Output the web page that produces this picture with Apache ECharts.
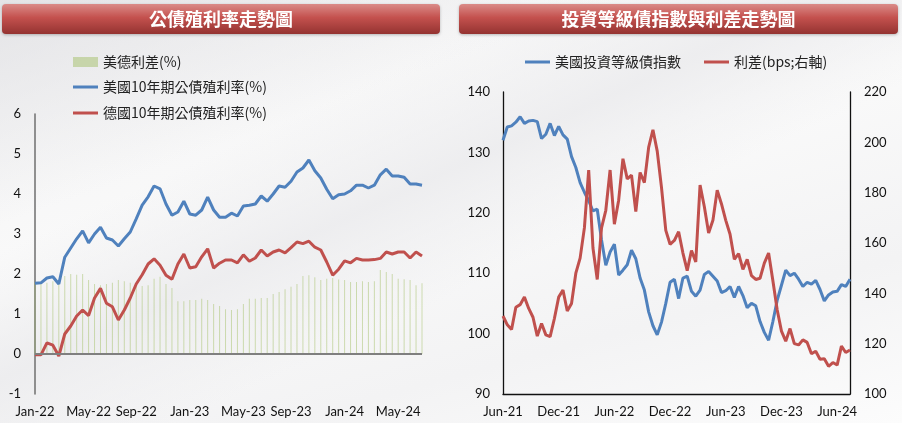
<!DOCTYPE html>
<html>
<head>
<meta charset="utf-8">
<script src="https://cdn.jsdelivr.net/npm/echarts/dist/echarts.min.js"></script>
<style>
  html, body { margin: 0; padding: 0; }
  body {
    width: 902px; height: 423px; overflow: hidden;
    background:
      linear-gradient(160deg, rgba(225,225,228,0.8) 0%, rgba(255,255,255,0) 30%),
      linear-gradient(-25deg, rgba(255,255,255,0) 40%, rgba(236,236,238,0.9) 55%, rgba(255,255,255,0) 70%),
      linear-gradient(165deg, #f2f2f3 0%, #fafafa 45%, #f3f3f4 75%, #fcfcfc 100%);
  }
  #main { width: 902px; height: 423px; }
</style>
</head>
<body>
<div id="main"></div>
<script>
// 左圖: 公債殖利率 (雙週資料, 2022-01 起)
const leftStart = '2022-01-07'
const leftTickMonths = [0, 4, 8]          // Jan / May / Sep
const spreadUsDe = [1.79,1.80,1.78,1.82,1.80,1.95,2.0,1.98,2.0,1.85,
  1.75,1.72,1.75,1.78,1.85,1.82,1.78,1.72,1.70,1.72,
  1.88,1.93,1.75,1.65,1.32,1.32,1.35,1.35,1.38,1.35,
  1.25,1.20,1.12,1.10,1.12,1.25,1.38,1.38,1.40,1.40,
  1.50,1.55,1.62,1.68,1.75,1.95,1.97,1.92,1.85,1.88,
  1.90,1.86,1.85,1.80,1.80,1.82,1.80,1.82,2.10,2.05,
  2.00,1.88,1.87,1.85,1.72,1.77]
const us10y = [1.77,1.78,1.90,1.93,1.75,2.42,2.65,2.88,3.08,2.78,
  3.00,3.17,2.90,2.85,2.70,2.88,3.05,3.38,3.72,3.93,
  4.20,4.13,3.75,3.47,3.55,3.82,3.50,3.47,3.60,3.92,
  3.60,3.42,3.42,3.52,3.45,3.70,3.72,3.75,3.95,3.82,
  4.00,4.20,4.17,4.32,4.55,4.65,4.85,4.58,4.40,4.12,
  3.88,3.98,4.00,4.08,4.22,4.22,4.15,4.22,4.48,4.62,
  4.45,4.45,4.42,4.25,4.25,4.22]
const de10y = [-0.02,-0.02,0.28,0.22,-0.05,0.50,0.70,0.95,1.10,0.96,
  1.40,1.64,1.27,1.18,0.85,1.10,1.40,1.75,1.98,2.25,
  2.38,2.22,1.97,1.87,2.25,2.50,2.15,2.18,2.43,2.63,
  2.15,2.27,2.35,2.35,2.28,2.48,2.32,2.40,2.60,2.45,
  2.55,2.60,2.53,2.66,2.80,2.76,2.82,2.67,2.60,2.30,
  1.97,2.12,2.33,2.28,2.39,2.35,2.35,2.36,2.39,2.55,
  2.50,2.55,2.55,2.40,2.55,2.45]

// 右圖: 投資等級債指數與利差 (雙週資料, 2021-06 起)
const rightStart = '2021-06-07'
const rightTickMonths = [5, 11]           // Jun / Dec
const igIndex = [132.0,134.2,134.4,135.0,135.9,134.8,135.2,135.3,135.1,132.3,
  133.0,134.8,132.8,134.3,132.9,132.2,129.3,127.5,125.0,123.4,
  122.0,120.3,120.6,115.5,111.3,113.5,114.8,109.7,110.5,111.4,
  113.8,112.4,109.2,107.2,103.6,101.3,99.8,101.9,105.0,108.5,
  109.0,105.8,109.2,109.5,107.0,106.2,107.2,109.8,110.3,109.5,
  108.7,106.8,107.1,107.8,106.0,107.8,106.3,104.3,105.0,104.6,
  102.0,100.2,98.9,102.0,105.5,108.0,110.5,109.6,110.0,109.0,
  107.8,108.5,108.2,108.8,107.3,105.4,106.4,106.9,107.0,108.1,
  107.8,109.0]
const igSpread = [131.0,127.5,125.6,134.5,135.5,138.5,134.0,130.5,123.0,128.0,
  123.5,122.8,130.0,138.5,141.3,133.0,136.0,148.0,154.0,166.0,
  189.0,158.0,145.5,166.0,173.0,189.0,167.5,177.0,193.5,185.5,
  187.0,172.5,188.0,184.0,198.0,205.0,196.5,182.0,165.0,159.5,
  161.0,164.5,156.0,149.0,157.0,152.5,183.0,174.4,164.0,169.0,
  181.0,175.5,169.0,163.5,153.5,155.8,149.5,153.5,147.0,145.5,
  146.0,152.0,156.0,145.0,133.5,125.0,121.0,126.0,120.0,119.5,
  121.5,120.5,116.0,117.0,113.8,114.0,111.0,112.5,111.5,119.0,
  116.5,117.5]

const monthNames = ['Jan','Feb','Mar','Apr','May','Jun','Jul','Aug','Sep','Oct','Nov','Dec']
const font = 'Lato, "Noto Sans CJK TC", sans-serif'
const cjk = '"Noto Sans CJK TC", sans-serif'

function biweekly(start, n) {
  const t0 = Date.parse(start)
  const out = []
  for (let i = 0; i < n; i++) {
    out.push(new Date(t0 + i * 14 * 86400000).toISOString().slice(0, 10))
  }
  return out
}
function tickFilter(months) {
  return (idx, val) => {
    const d = new Date(val)
    return months.indexOf(d.getUTCMonth()) >= 0 && d.getUTCDate() <= 14
  }
}
function monthLabel(val) {
  const d = new Date(val)
  return monthNames[d.getUTCMonth()] + '-' + String(d.getUTCFullYear()).slice(2)
}

const leftDates = biweekly(leftStart, us10y.length)
const rightDates = biweekly(rightStart, igIndex.length)

const chart = echarts.init(document.getElementById('main'))

function banner(x, w, text) {
  return [
    {
      type: 'rect',
      shape: { x: x, y: 4, width: w, height: 30, r: 4 },
      style: {
        fill: { type: 'linear', x: 0, y: 0, x2: 0, y2: 1, colorStops: [
          { offset: 0, color: '#da8b88' }, { offset: 0.45, color: '#c4514e' }, { offset: 1, color: '#943331' }
        ] },
        shadowBlur: 3, shadowColor: 'rgba(0,0,0,0.25)', shadowOffsetY: 1
      }
    },
    {
      type: 'text',
      style: {
        x: x + w / 2, y: 19, text: text, fill: '#fff',
        font: 'bold 18px ' + cjk, textAlign: 'center', textVerticalAlign: 'middle'
      }
    }
  ]
}

const axisText = { color: '#111', fontSize: 13, fontFamily: font }

chart.setOption({
  animation: false,
  textStyle: { fontFamily: font },
  graphic: banner(2, 438, '公債殖利率走勢圖').concat(banner(459, 439, '投資等級債指數與利差走勢圖')),
  legend: [
    {
      data: ['美德利差(%)'], left: 73, top: 55, padding: 0,
      icon: 'rect', itemWidth: 25, itemHeight: 10,
      textStyle: { fontSize: 14, color: '#222', fontFamily: cjk }
    },
    {
      data: ['美國10年期公債殖利率(%)', '德國10年期公債殖利率(%)'], orient: 'vertical',
      left: 73, top: 80, padding: 0, itemGap: 12,
      icon: 'rect', itemWidth: 25, itemHeight: 3,
      textStyle: { fontSize: 14, color: '#222', fontFamily: cjk }
    },
    {
      data: ['美國投資等級債指數', '利差(bps;右軸)'], left: 525, top: 55, padding: 0, itemGap: 23,
      icon: 'rect', itemWidth: 25, itemHeight: 3,
      textStyle: { fontSize: 14, color: '#222', fontFamily: cjk }
    }
  ],
  grid: [
    { left: 35, top: 114, width: 387, height: 280 },
    { left: 503, top: 92, width: 347, height: 302 }
  ],
  xAxis: [
    {
      type: 'category', gridIndex: 0, data: leftDates, boundaryGap: false,
      axisLine: { show: false, onZero: false }, axisTick: { show: false },
      axisLabel: Object.assign({ interval: tickFilter(leftTickMonths), formatter: monthLabel, margin: 11 }, axisText)
    },
    {
      type: 'category', gridIndex: 1, data: rightDates, boundaryGap: false,
      axisLine: { show: true, onZero: false, lineStyle: { color: '#111', width: 1.3 } }, axisTick: { show: false },
      axisLabel: Object.assign({ interval: tickFilter(rightTickMonths), formatter: monthLabel, margin: 11 }, axisText)
    }
  ],
  yAxis: [
    {
      type: 'value', gridIndex: 0, min: -1, max: 6, interval: 1,
      axisLine: { show: true, lineStyle: { color: '#777', width: 1.6 } }, axisTick: { show: false },
      splitLine: { show: false }, axisLabel: Object.assign({ margin: 14 }, axisText)
    },
    {
      type: 'value', gridIndex: 1, min: 90, max: 140, interval: 10,
      axisLine: { show: true, lineStyle: { color: '#111', width: 1.3 } }, axisTick: { show: false },
      splitLine: { show: false }, axisLabel: Object.assign({ margin: 13 }, axisText)
    },
    {
      type: 'value', gridIndex: 1, position: 'right', min: 100, max: 220, interval: 20,
      axisLine: { show: true, lineStyle: { color: '#111', width: 1.3 } }, axisTick: { show: false },
      splitLine: { show: false }, axisLabel: Object.assign({ margin: 14 }, axisText)
    }
  ],
  series: [
    {
      name: '美德利差(%)', type: 'bar', xAxisIndex: 0, yAxisIndex: 0,
      data: spreadUsDe, barWidth: 1, itemStyle: { color: '#9bbb59', opacity: 0.45 },
      markLine: {
        silent: true, symbol: 'none', label: { show: false },
        lineStyle: { color: '#7f7f7f', width: 2, type: 'solid' },
        data: [{ yAxis: 0 }]
      }
    },
    {
      name: '美國10年期公債殖利率(%)', type: 'line', xAxisIndex: 0, yAxisIndex: 0,
      data: us10y, showSymbol: false, lineStyle: { color: '#4f81bd', width: 3 }, itemStyle: { color: '#4f81bd' }
    },
    {
      name: '德國10年期公債殖利率(%)', type: 'line', xAxisIndex: 0, yAxisIndex: 0,
      data: de10y, showSymbol: false, lineStyle: { color: '#c0504d', width: 3 }, itemStyle: { color: '#c0504d' }
    },
    {
      name: '美國投資等級債指數', type: 'line', xAxisIndex: 1, yAxisIndex: 1,
      data: igIndex, showSymbol: false, lineStyle: { color: '#4f81bd', width: 3 }, itemStyle: { color: '#4f81bd' }
    },
    {
      name: '利差(bps;右軸)', type: 'line', xAxisIndex: 1, yAxisIndex: 2,
      data: igSpread, showSymbol: false, lineStyle: { color: '#c0504d', width: 3 }, itemStyle: { color: '#c0504d' }
    }
  ]
})
</script>
</body>
</html>
